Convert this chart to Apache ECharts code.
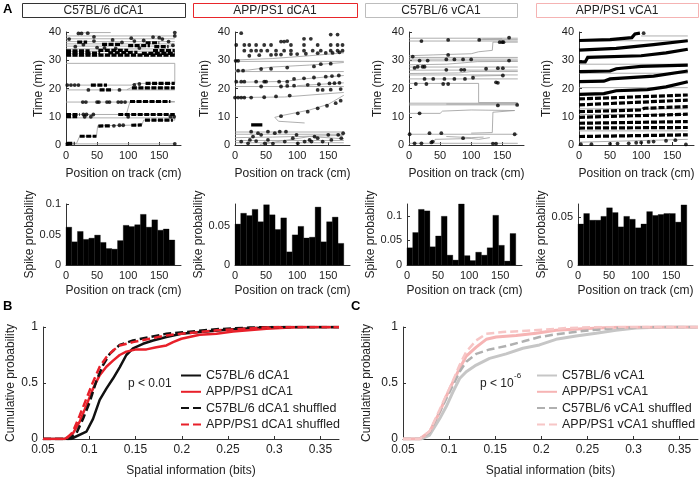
<!DOCTYPE html>
<html>
<head>
<meta charset="utf-8">
<script src="https://cdn.jsdelivr.net/npm/echarts@6/dist/echarts.min.js"></script>
<style>
html,body{margin:0;padding:0;background:#fff;}
#chart{width:700px;height:477px;}
</style>
</head>
<body>
<div id="chart"></div>
<script>
var FONT = 'Liberation Sans, Arial, sans-serif';

// ---- panel A titles
var groupNames = ['C57BL/6 dCA1', 'APP/PS1 dCA1', 'C57BL/6 vCA1', 'APP/PS1 vCA1'];
var groupColors = ['#333333', '#e8262b', '#bdbdbd', '#f5b3b3'];

// ---- panel A rasters: trajectory (gray), dense spike runs, single spikes  [cm, min]
var traj1 = [
  [[0,0.4],[175,0.4]],
  [[0,0.6],[17,0.6],[22,3.1],[49,3.1],[51,6.8],[122,7.1],[125,8.8],[175,8.8],[175,9.6],[0,9.6]],
  [[0,10.8],[175,10.8]],
  [[97,10.8],[103,15.4],[175,15.4]],
  [[0,15.2],[175,15.2]],
  [[0,19.5],[175,19.5]],
  [[98,19.6],[104,20.2],[175,20.2]],
  [[0,21.2],[105,21.2],[112,21.8],[175,21.8],[175,28.9],[0,28.9]],
  [[0,31.5],[175,31.5]],[[0,32.3],[175,32.3]],[[0,33.2],[175,33.2]],[[0,34],[175,34]],
  [[0,35],[175,35]],[[0,35.8],[175,35.8]],[[0,36.6],[175,36.6]],[[0,37.6],[175,37.6]],
  [[0,38.6],[175,38.6]],[[20,39.8],[72,39.8]]
];
var runs1 = [
  [[0,0.4],[4,0.4]],[[2,0.6],[14,0.6]],
  [[22,3.1],[49,3.1]],
  [[52,6.7],[72,6.8]],[[105,7.0],[122,7.1]],
  [[127,8.8],[172,8.8]],
  [[0,10.8],[22,10.8]],[[0,10.0],[18,10.0]],[[84,10.8],[175,10.8]],
  [[103,15.4],[168,15.4]],
  [[54,19.5],[75,19.5]],[[106,20.2],[175,20.2]],
  [[40,21.2],[66,21.2]],[[128,21.8],[175,21.8]],
  [[0,31.8],[175,31.8]],[[0,32.5],[55,32.5]],[[68,32.6],[115,32.8]],[[122,32.4],[175,32.4]],
  [[0,33.3],[38,33.3]],[[52,33.5],[100,33.5]],[[140,33.4],[175,33.4]],
  [[58,35.6],[88,35.6]],[[100,35.2],[135,35.2]],[[18,36.4],[34,36.4]],[[142,34.8],[165,34.8]],[[128,36.2],[150,36.2]]
];
var dots1 = [
  [2,0.4],[175,0.4],[77,6.8],[86,7.0],[92,7.0],[28,10.8],[33,10.8],[44,10.8],[30,10.0],[40,10.0],[100,10.0],
  [168,10.0],[174,10.0],[27,15.2],[32,15.2],[50,15.2],[53,15.2],[66,15.2],[70,15.2],[84,15.2],[89,15.2],[95,15.2],
  [36,19.5],[86,19.5],[2,21.2],[8,21.2],[14,21.2],[20,21.2],[110,21.3],[118,21.6],[5,37.5],[15,34.8],[28,35.5],
  [45,36.8],[50,34.5],[75,37.2],[90,36.3],[105,37.8],[118,34.3],[125,37.0],[155,37.5],[165,36.6],[172,35.3],
  [175,38.6],[175,39.8],[20,39.5],[25,39.5],[35,39.6],[45,38.3],[140,38.2],[62,34.4],[80,34.2],[110,36.8],[150,38.0]
];

var traj2 = [
  [[0,30.1],[60,30.6],[120,31.6],[175,32.6]],
  [[0,29.6],[175,29.6]],
  [[0,26.4],[20,26.5],[60,27.6],[120,28.3],[175,29.2]],
  [[0,26.0],[175,26.0]],
  [[0,22.2],[80,22.5],[110,23.4],[175,24.6]],
  [[0,20.7],[175,20.7]],
  [[100,21.0],[175,22.0]],
  [[0,16.8],[80,17.0],[175,18.6]],
  [[175,17.6],[150,14.4],[120,12.4],[75,10.4],[64,9.8],[70,8.4],[112,7.8]],
  [[0,4.6],[175,4.6]],[[0,3.8],[175,3.8]],[[0,2.6],[60,2.8],[175,3.4]],[[0,1.6],[175,1.6]],
  [[0,0.8],[175,0.8]],[[40,0.2],[120,3.0],[175,2.2]]
];
var runs2 = [[[26,7.1],[44,7.1]]];
var dots2 = [
  [10,39.6],[154,39.1],[165,39.1],[111,37.6],[122,37.6],[74,36.6],[79,36.6],[84,36.8],
  [2,35.4],[15,35.4],[23,35.4],[34,35.4],[47,35.4],[58,35.4],[90,35.4],[111,35.4],[133,35.4],[154,35.4],[165,35.4],[173,35.4],
  [15,33.4],[26,33.4],[34,33.4],[42,33.4],[52,33.4],[66,33.4],[79,33.4],[90,33.4],[111,33.4],[125,33.4],[138,33.4],[154,33.4],[165,33.4],[173,33.4],
  [23,31.6],[39,31.8],[58,31.9],[66,32],[74,32],[90,32.2],[100,32.2],[114,32.3],[133,32.5],[146,32.6],[157,32.6],[168,32.8],
  [1,29.8],[5,29.8],
  [5,26.3],[13,26.3],[42,26.9],[58,27],[84,27.4],[127,27.8],[138,28.6],[154,28.8],
  [2,22.4],[10,22.4],[15,22.4],[34,22.4],[47,22.4],[50,22.4],[71,22.4],[84,22.4],
  [95,23.4],[111,23.6],[127,23.9],[146,24.2],[156,24.4],[167,24.6],
  [42,20.7],[74,20.7],[84,20.9],[95,21],[117,21.3],[135,21.5],[152,21.8],[160,21.9],[168,22],
  [133,19.5],[141,19.5],[154,19.6],[170,19.8],
  [0,16.8],[5,16.8],[10,16.8],[15,16.8],[26,16.8],[47,16.9],[66,17.2],[88,17.5],
  [170,15.7],[162,14.8],[148,13.9],[133,13],[117,11.8],[101,11.2],[74,10.2],
  [26,4.7],[37,4.2],[42,3.6],[53,4.7],[64,4.2],[72,4.7],[82,4.7],[93,2.4],[99,3.6],[112,1.2],[120,1.8],[123,1.2],
  [133,2.4],[141,1.2],[150,3.6],[155,1.8],[166,3.6],[174,4.2],[21,0.6],[24,1.8],[48,0.6],[53,1.8],[80,1.2],[128,3.0],
  [10,1.2],[29,3.0],[34,1.4],[61,0.5],[101,0.6],[171,2.4]
];

var traj3 = [
  [[0,37.8],[175,37.8]],[[0,36.8],[175,36.8]],[[112,37.3],[175,37.3]],[[118,37.5],[150,37.6]],
  [[175,36.4],[135,36.4],[134,33.5],[112,33],[100,32.3],[40,31.9],[0,31.6]],
  [[0,31.0],[175,31.0]],[[0,30.4],[175,30.4]],[[0,29.8],[175,29.8]],
  [[0,28.4],[60,28.6],[110,29.5],[175,29.6]],
  [[0,27.6],[175,27.6]],[[0,26.5],[175,26.5]],
  [[0,25.3],[80,25.5],[100,26],[175,26]],
  [[0,24.8],[175,24.8]],[[100,24.4],[150,24.6]],[[0,23.4],[175,23.4]],
  [[0,21.8],[112,21.8],[112,15],[175,15]],
  [[0,14.8],[175,14.8]],[[0,14.2],[175,14.2]],[[60,14.5],[175,14.5]],
  [[0,11.2],[50,11.2],[54,12],[100,12.4],[170,12.2],[135,11.6],[134,4.4],[100,4.2]],
  [[0,3.8],[175,3.8]],[[60,3.0],[100,2.6],[120,2.8]],
  [[40,0.7],[42,2.0],[100,2.3],[112,2.0],[130,2.6]],
  [[0,0.6],[175,0.6]]
];
var runs3 = [];
var dots3 = [
  [20,36.8],[63,37.2],[113,37.2],[146,36.4],[150,36.4],[152,36.4],[161,38],
  [6,31.3],[63,31.9],
  [17,29.9],[30,29.9],[60,30.3],[73,30.3],[87,30.3],[100,30.3],[161,29.9],
  [9,27.3],[14,27.7],[22,27.7],[25,27.7],[60,26.6],[84,26.6],[89,26.6],[124,27],[143,27.2],[151,27.2],
  [25,23.4],[39,23.4],[57,23.4],[73,23.4],[90,23.4],[103,23.8],[151,24.6],[140,22.2],[143,22],
  [11,21.6],[28,21.6],[55,21.6],[63,21.6],
  [143,14],[174,14.2],
  [17,11.2],
  [1,3.8],[33,4.2],[52,4.2],[87,2.4],[170,3.8],
  [9,0.6],[20,0.6],[36,0.9],[38,1.2],[135,0.5],[140,0.5]
];

var traj4 = [
  [[0,36.9],[175,36.9]],[[100,38.6],[175,38.6]],[[0,28.6],[175,28.6]],[[0,25.4],[175,25.4]],
  [[0,20.3],[175,20.3]],[[0,12.8],[175,12.8]],[[0,10.8],[175,10.8]],[[0,5.0],[175,5.0]],[[0,1.0],[175,2.0]]
];
var runs4 = [
  [[0,37.0],[50,37.3],[85,38.0],[90,39.3],[98,39.6]],
  [[0,33.6],[60,34.2],[120,35.5],[175,36.9]],
  [[0,29.4],[10,29.4],[14,31.0],[100,31.6],[140,32.6],[175,33.9]],
  [[0,26.0],[50,26.2],[60,27.0],[100,27.8],[175,28.3]],
  [[0,22.4],[40,22.6],[50,23.4],[120,24.4],[175,26.2]],
  [[0,17.9],[40,18.2],[60,19.2],[110,19.6],[140,20.6],[175,22.4]]
];
var dashRuns4 = [
  [[0,16.3],[175,17.7]],
  [[0,14.2],[175,15.9]],
  [[0,11.8],[100,12.4],[105,13],[175,13.6]],
  [[0,9.8],[175,10.9]],
  [[0,7.7],[175,8.3]],
  [[0,6.0],[175,6.2]],
  [[0,3.0],[175,3.6]]
];
var dots4 = [[3,0.3],[20,0.3],[50,0.4],[62,0.5],[80,0.6],[92,0.8],[100,0.9],[112,1.1],[120,1.2],[140,1.5],[155,1.7],[172,0.2],[104,39.6]];

// ---- panel A histograms, spike probability per position bin (19 bins over 0-175 cm)
var trackLen = 175;
var hist1 = [0.062,0.038,0.055,0.042,0.044,0.049,0.037,0.027,0.026,0.040,0.065,0.063,0.066,0.083,0.062,0.074,0.057,0.059,0.041];
var hist2 = [0.053,0.067,0.064,0.072,0.056,0.078,0.065,0.046,0.061,0.017,0.039,0.050,0.035,0.036,0.075,0.030,0.056,0.062,0.028];
var hist3 = [0.035,0.066,0.113,0.110,0.037,0.059,0.099,0.020,0.010,0.124,0.019,0.009,0.026,0.020,0.035,0.101,0.040,0.008,0.064];
var hist4 = [0.043,0.054,0.047,0.047,0.051,0.060,0.055,0.040,0.051,0.048,0.039,0.043,0.056,0.052,0.053,0.054,0.054,0.045,0.063];
var histMax = [0.1, 0.079, 0.124, 0.064];

// ---- panels B/C cumulative distributions  [bits, probability]
var bBlack = [[0.05,0],[0.080,0],[0.0969,0.065],[0.1041,0.18],[0.1113,0.35],[0.1185,0.45],[0.1257,0.54],[0.1329,0.64],[0.1401,0.75],[0.1473,0.81],[0.1581,0.85],[0.169,0.88],[0.1834,0.91],[0.1996,0.94],[0.2194,0.955],[0.2555,0.98],[0.2915,0.995],[0.3096,1],[0.37,1]];
var bRed = [[0.05,0],[0.0734,0],[0.0824,0.05],[0.0897,0.155],[0.0969,0.30],[0.1041,0.45],[0.1113,0.57],[0.1185,0.645],[0.1257,0.70],[0.1329,0.75],[0.1401,0.78],[0.1509,0.80],[0.1618,0.80],[0.1726,0.82],[0.1834,0.835],[0.1906,0.865],[0.1996,0.895],[0.2194,0.93],[0.2375,0.94],[0.2555,0.96],[0.2915,0.985],[0.3276,1],[0.37,1]];
var bBlackShuf = [[0.05,0],[0.078,0],[0.086,0.05],[0.0933,0.18],[0.1005,0.33],[0.1077,0.52],[0.1149,0.66],[0.1221,0.76],[0.1329,0.84],[0.1473,0.88],[0.1654,0.91],[0.1834,0.94],[0.205,0.955],[0.2375,0.98],[0.2735,0.995],[0.30,1],[0.37,1]];
var bRedShuf = [[0.05,0],[0.075,0],[0.082,0.06],[0.0897,0.21],[0.0969,0.36],[0.1041,0.51],[0.1113,0.645],[0.1185,0.73],[0.1257,0.79],[0.1329,0.835],[0.1473,0.865],[0.1654,0.895],[0.1834,0.925],[0.1996,0.94],[0.2375,0.97],[0.2915,0.995],[0.31,1],[0.37,1]];

var cGray = [[0.05,0],[0.07,0],[0.0789,0.035],[0.0897,0.18],[0.0969,0.29],[0.1042,0.42],[0.1114,0.54],[0.1186,0.60],[0.1294,0.66],[0.1439,0.72],[0.1619,0.76],[0.18,0.81],[0.198,0.84],[0.216,0.89],[0.2377,0.92],[0.2594,0.945],[0.281,0.97],[0.3027,0.99],[0.335,1],[0.37,1]];
var cPink = [[0.05,0],[0.068,0],[0.0789,0.065],[0.0897,0.24],[0.0969,0.38],[0.1042,0.51],[0.1114,0.63],[0.1186,0.74],[0.1294,0.82],[0.1403,0.89],[0.1511,0.91],[0.1727,0.925],[0.1944,0.945],[0.216,0.97],[0.2449,0.985],[0.281,0.997],[0.31,1],[0.37,1]];
var cGrayShuf = [[0.05,0],[0.068,0],[0.0789,0.06],[0.0897,0.24],[0.0969,0.36],[0.1042,0.48],[0.1114,0.60],[0.1186,0.69],[0.1294,0.76],[0.1439,0.80],[0.1619,0.83],[0.18,0.87],[0.198,0.91],[0.216,0.935],[0.2449,0.965],[0.281,0.99],[0.3171,1],[0.37,1]];
var cPinkShuf = [[0.05,0],[0.068,0],[0.0789,0.07],[0.0897,0.26],[0.0969,0.39],[0.1042,0.52],[0.1114,0.66],[0.1186,0.78],[0.1294,0.88],[0.1403,0.94],[0.1583,0.955],[0.1908,0.97],[0.2269,0.99],[0.263,1],[0.37,1]];

// ---- layout
var rasterLeft = [66, 235, 409, 579];
var histLeft = [66, 235, 407, 578];
var timeNameGap = [20, 24, 25, 26];
var probNameGap = [30, 29, 29, 25];

function axisLine(){ return {show:true, onZero:false, lineStyle:{color:'#333', width:1}}; }
function axisTick(){ return {show:true, inside:true, length:3, lineStyle:{color:'#333'}}; }
function lbl(size, extra){
  var o = {color:'#222', fontSize:size, fontFamily:FONT, margin:5};
  for (var k in extra) o[k] = extra[k];
  return o;
}
var nameStyle = {color:'#222', fontSize:12, fontFamily:FONT};

var grids = [], xAxes = [], yAxes = [], series = [];

function addGrid(left, top, width, height){
  grids.push({left:left, top:top, width:width, height:height, containLabel:false, outerBoundsMode:'none'});
  return grids.length - 1;
}

var trajs = [traj1, traj2, traj3, traj4];
var runs = [runs1, runs2, runs3, runs4];
var dots = [dots1, dots2, dots3, dots4];
var hists = [hist1, hist2, hist3, hist4];

for (var i = 0; i < 4; i++) {
  var g = addGrid(rasterLeft[i], 32, 115, 113);
  xAxes.push({type:'value', gridIndex:g, min:0, max:185, interval:50, axisLine:axisLine(), axisTick:axisTick(),
    splitLine:{show:false}, axisLabel:lbl(11, {showMaxLabel:false}),
    name:'Position on track (cm)', nameLocation:'middle', nameGap:23, nameTextStyle:nameStyle});
  yAxes.push({type:'value', gridIndex:g, min:0, max:40, interval:10, axisLine:axisLine(), axisTick:axisTick(),
    splitLine:{show:false}, axisLabel:lbl(11, {}),
    name:'Time (min)', nameLocation:'middle', nameGap:timeNameGap[i], nameTextStyle:nameStyle});
  series.push({type:'lines', coordinateSystem:'cartesian2d', xAxisIndex:g, yAxisIndex:g, polyline:true, silent:true,
    lineStyle:{color:'#9a9a9a', width:0.8, opacity:1},
    data: trajs[i].map(function(p){ return {coords:p}; }), z:1});
  series.push({type:'lines', coordinateSystem:'cartesian2d', xAxisIndex:g, yAxisIndex:g, polyline:true, silent:true,
    lineStyle:{color:'#000', width:3.2, opacity:1, type: i === 0 ? [5,1.5] : 'solid'},
    data: runs[i].map(function(p){ return {coords:p}; }), z:3});
  if (i === 3) {
    series.push({type:'lines', coordinateSystem:'cartesian2d', xAxisIndex:g, yAxisIndex:g, polyline:true, silent:true,
      lineStyle:{color:'#000', width:3.2, opacity:1, type:[6,2]},
      data: dashRuns4.map(function(p){ return {coords:p}; }), z:3});
  }
  series.push({type:'scatter', xAxisIndex:g, yAxisIndex:g, symbolSize:3.8, silent:true,
    itemStyle:{color:'#000'}, data:dots[i], z:4});
}

var binW = trackLen / 19;
for (var j = 0; j < 4; j++) {
  var h = addGrid(histLeft[j], 204, 115, 61);
  xAxes.push({type:'value', gridIndex:h, min:0, max:185, interval:50, axisLine:axisLine(), axisTick:axisTick(),
    splitLine:{show:false}, axisLabel:lbl(11, {showMaxLabel:false}),
    name:'Position on track (cm)', nameLocation:'middle', nameGap:20, nameTextStyle:nameStyle});
  yAxes.push({type:'value', gridIndex:h, min:0, max:histMax[j], interval:0.05, axisLine:axisLine(), axisTick:axisTick(),
    splitLine:{show:false}, axisLabel:lbl(11, {showMaxLabel: j === 0}),
    name:'Spike probability', nameLocation:'middle', nameGap:probNameGap[j], nameTextStyle:nameStyle});
  series.push({type:'custom', xAxisIndex:h, yAxisIndex:h, silent:true,
    data: hists[j].map(function(v, k){ return [k*binW, (k+1)*binW, v]; }),
    encode:{x:[0,1], y:2},
    renderItem:function(params, api){
      var p0 = api.coord([api.value(0), api.value(2)]);
      var p1 = api.coord([api.value(1), 0]);
      return {type:'rect', shape:{x:p0[0], y:p0[1], width:p1[0]-p0[0], height:p1[1]-p0[1]}, style:{fill:'#000', stroke:'#000', lineWidth:0.3}};
    }});
}

function cdfAxes(g, yGap){
  xAxes.push({type:'value', gridIndex:g, min:0.05, max:0.37, interval:0.05, axisLine:axisLine(), axisTick:axisTick(),
    splitLine:{show:false}, axisLabel:lbl(12, {showMaxLabel:false}),
    name:'Spatial information (bits)', nameLocation:'middle', nameGap:26, nameTextStyle:nameStyle});
  yAxes.push({type:'value', gridIndex:g, min:0, max:1, interval:0.5, axisLine:axisLine(), axisTick:axisTick(),
    splitLine:{show:false}, axisLabel:lbl(12, {}),
    name:'Cumulative probability', nameLocation:'middle', nameGap:yGap, nameTextStyle:nameStyle});
}
function cdfLine(g, name, data, color, width, dashed){
  series.push({type:'line', name:name, xAxisIndex:g, yAxisIndex:g, data:data, showSymbol:false, symbol:'none',
    silent:true, lineStyle:{color:color, width:width, type: dashed ? [8,4] : 'solid'}, itemStyle:{color:color}, z:5});
}

var gb = addGrid(43, 327, 296, 112);
cdfAxes(gb, 26);
cdfLine(gb, 'C57BL/6 dCA1', bBlack, '#111', 2.5, false);
cdfLine(gb, 'APP/PS1 dCA1', bRed, '#e8202a', 2.5, false);
cdfLine(gb, 'C57BL/6 dCA1 shuffled', bBlackShuf, '#111', 2.5, true);
cdfLine(gb, 'APP/PS1 dCA1 shuffled', bRedShuf, '#e8202a', 2.5, true);

var gc = addGrid(403, 327, 295, 112);
cdfAxes(gc, 30);
cdfLine(gc, 'C57BL/6 vCA1', cGray, '#c6c6c6', 3, false);
cdfLine(gc, 'APP/PS1 vCA1', cPink, '#f6b4b4', 3, false);
cdfLine(gc, 'C57BL/6 vCA1 shuffled', cGrayShuf, '#b0b0b0', 2.5, true);
cdfLine(gc, 'APP/PS1 vCA1 shuffled', cPinkShuf, '#f7c6c6', 2.5, true);

function legendAt(left, names){
  return {orient:'vertical', left:left, top:369, itemWidth:20, itemHeight:12, itemGap:3.3, padding:0,
    selectedMode:false, data:names, itemStyle:{opacity:0},
    textStyle:{color:'#222', fontSize:12.5, fontFamily:FONT}};
}

var graphics = [];
var boxes = [[22,185],[193,357],[365,517],[536,698]];
for (var b = 0; b < 4; b++) {
  graphics.push({type:'rect', shape:{x:boxes[b][0]+0.5, y:3.5, width:boxes[b][1]-boxes[b][0], height:14},
    style:{fill:'#fff', stroke:groupColors[b], lineWidth:1}});
  graphics.push({type:'text', x:(boxes[b][0]+boxes[b][1])/2, y:10.8,
    style:{text:groupNames[b], fill:'#222', font:'12px ' + FONT, align:'center', verticalAlign:'middle'}});
}
graphics.push({type:'text', x:3, y:3, style:{text:'A', fill:'#000', font:'bold 13px ' + FONT}});
graphics.push({type:'text', x:3, y:300, style:{text:'B', fill:'#000', font:'bold 13px ' + FONT}});
graphics.push({type:'text', x:351, y:300, style:{text:'C', fill:'#000', font:'bold 13px ' + FONT}});
graphics.push({type:'text', x:128, y:384, style:{text:'p < 0.01', fill:'#222', font:'12px ' + FONT, verticalAlign:'middle'}});
graphics.push({type:'text', x:480, y:384, style:{text:'p < 10', fill:'#222', font:'12px ' + FONT, verticalAlign:'middle'}});
graphics.push({type:'text', x:514, y:376, style:{text:'-6', fill:'#222', font:'8px ' + FONT, verticalAlign:'middle'}});

var chart = echarts.init(document.getElementById('chart'), null, {renderer:'canvas'});
chart.setOption({
  animation:false,
  backgroundColor:'#fff',
  textStyle:{fontFamily:FONT},
  grid:grids,
  xAxis:xAxes,
  yAxis:yAxes,
  legend:[
    legendAt(180, ['C57BL/6 dCA1','APP/PS1 dCA1','C57BL/6 dCA1 shuffled','APP/PS1 dCA1 shuffled']),
    legendAt(536, ['C57BL/6 vCA1','APP/PS1 vCA1','C57BL/6 vCA1 shuffled','APP/PS1 vCA1 shuffled'])
  ],
  series:series,
  graphic:graphics
});
window.onresize = chart.resize;
</script>
</body>
</html>
